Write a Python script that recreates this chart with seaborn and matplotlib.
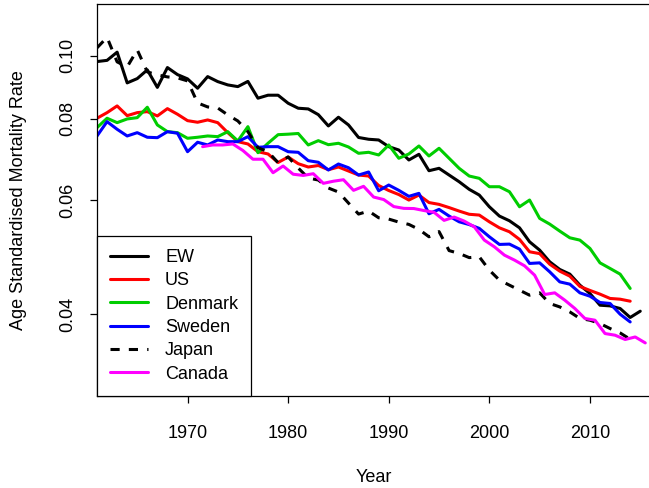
import numpy as np
import pandas as pd
import matplotlib
matplotlib.use("Agg")
import matplotlib.pyplot as plt
import seaborn as sns
from matplotlib.ticker import FixedLocator, FixedFormatter, NullLocator

# ---------------- data ----------------
years_ew = list(range(1961, 2016))
ew = [0.09800, 0.09842, 0.10132, 0.09087, 0.09226, 0.09516, 0.08943, 0.09594, 0.09358, 0.09217,
      0.08917, 0.09292, 0.09129, 0.09022, 0.08968, 0.09135, 0.08607, 0.08699, 0.08699, 0.08455,
      0.08307, 0.08286, 0.08120, 0.07801, 0.08046, 0.07829, 0.07489, 0.07442, 0.07423, 0.07249,
      0.07164, 0.06915, 0.07056, 0.06657, 0.06714, 0.06556, 0.06402, 0.06232, 0.06107, 0.05859,
      0.05669, 0.05575, 0.05438, 0.05175, 0.05025, 0.04821, 0.04692, 0.04615, 0.04438, 0.04309,
      0.04134, 0.04124, 0.04086, 0.03958, 0.04047]

years_us = list(range(1961, 2015))
us = [0.08017, 0.08178, 0.08375, 0.08091, 0.08178, 0.08207, 0.08083, 0.08295, 0.08132, 0.07949,
      0.07904, 0.07969, 0.07893, 0.07618, 0.07379, 0.07319, 0.07121, 0.07064, 0.06854, 0.06989,
      0.06825, 0.06745, 0.06781, 0.06681, 0.06745, 0.06650, 0.06556, 0.06533, 0.06317, 0.06206,
      0.06118, 0.06000, 0.06107, 0.05947, 0.05909, 0.05842, 0.05770, 0.05705, 0.05689, 0.05555,
      0.05438, 0.05362, 0.05219, 0.04995, 0.04963, 0.04781, 0.04664, 0.04582, 0.04418, 0.04356,
      0.04299, 0.04234, 0.04223, 0.04193]

years_denmark = list(range(1961, 2015))
denmark = [0.07754, 0.08017, 0.07893, 0.07997, 0.08034, 0.08336, 0.07829, 0.07645, 0.07618, 0.07468,
           0.07495, 0.07529, 0.07511, 0.07645, 0.07397, 0.07782, 0.07096, 0.07337, 0.07564, 0.07577,
           0.07596, 0.07293, 0.07405, 0.07300, 0.07337, 0.07241, 0.07081, 0.07106, 0.07039, 0.07293,
           0.06957, 0.07064, 0.07267, 0.07014, 0.07208, 0.06957, 0.06714, 0.06533, 0.06480, 0.06290,
           0.06290, 0.06179, 0.05859, 0.06000, 0.05623, 0.05510, 0.05375, 0.05249, 0.05206, 0.05055,
           0.04803, 0.04709, 0.04615, 0.04387]

years_sweden = list(range(1961, 2015))
sweden = [0.07529, 0.07921, 0.07710, 0.07529, 0.07618, 0.07495, 0.07484, 0.07645, 0.07602, 0.07121,
          0.07363, 0.07293, 0.07423, 0.07379, 0.07379, 0.07511, 0.07233, 0.07249, 0.07249, 0.07121,
          0.07106, 0.06898, 0.06859, 0.06674, 0.06817, 0.06728, 0.06556, 0.06627, 0.06201, 0.06328,
          0.06210, 0.06079, 0.06144, 0.05715, 0.05805, 0.05669, 0.05555, 0.05501, 0.05427, 0.05268,
          0.05127, 0.05133, 0.05043, 0.04793, 0.04803, 0.04653, 0.04490, 0.04454, 0.04319, 0.04268,
          0.04174, 0.04159, 0.04004, 0.03896]

years_japan = list(range(1961, 2015))
japan = [0.10288, 0.10678, 0.09789, 0.09617, 0.10215, 0.09448, 0.09348, 0.09282, 0.09249, 0.09151,
         0.08464, 0.08345, 0.08315, 0.08112, 0.07941, 0.07645, 0.07223, 0.07121, 0.06849, 0.06989,
         0.06721, 0.06487, 0.06441, 0.06261, 0.06173, 0.05936, 0.05709, 0.05770, 0.05635, 0.05609,
         0.05549, 0.05504, 0.05408, 0.05268, 0.05366, 0.05016, 0.04966, 0.04893, 0.04907, 0.04681,
         0.04518, 0.04438, 0.04360, 0.04283, 0.04319, 0.04159, 0.04109, 0.04037, 0.03944, 0.03920,
         0.03874, 0.03806, 0.03747, 0.03664]

years_canada = [y + 0.5 for y in range(1971, 2016)]
canada = [0.07249, 0.07293, 0.07293, 0.07319, 0.07152, 0.06934, 0.06934, 0.06610, 0.06769, 0.06575,
          0.06547, 0.06587, 0.06366, 0.06414, 0.06448, 0.06210, 0.06299, 0.06064, 0.06011, 0.05863,
          0.05826, 0.05822, 0.05781, 0.05746, 0.05583, 0.05649, 0.05569, 0.05458, 0.05206, 0.05084,
          0.04936, 0.04850, 0.04753, 0.04598, 0.04294, 0.04319, 0.04208, 0.04086, 0.03944, 0.03920,
          0.03739, 0.03717, 0.03661, 0.03694, 0.03617]

series_names = ["EW", "US", "Denmark", "Sweden", "Japan", "Canada"]
y_ticks = [0.04, 0.06, 0.08, 0.10]
y_tick_labels = ["0.04", "0.06", "0.08", "0.10"]
x_ticks = [1970, 1980, 1990, 2000, 2010]
x_tick_labels = ["1970", "1980", "1990", "2000", "2010"]

# ---------------- styling ----------------
sns.set_style("ticks")
plt.rcParams["font.family"] = ["Liberation Sans", "DejaVu Sans"]
plt.rcParams["text.color"] = "black"
plt.rcParams["axes.labelcolor"] = "black"
plt.rcParams["xtick.color"] = "black"
plt.rcParams["ytick.color"] = "black"

colors = {"EW": "#000000", "US": "#FF0000", "Denmark": "#00CD00",
          "Sweden": "#0000FF", "Japan": "#000000", "Canada": "#FF00FF"}
styles = {"EW": "-", "US": "-", "Denmark": "-", "Sweden": "-",
          "Japan": (0, (3, 3)), "Canada": "-"}

data = {
    "EW": (years_ew, ew), "US": (years_us, us), "Denmark": (years_denmark, denmark),
    "Sweden": (years_sweden, sweden), "Japan": (years_japan, japan),
    "Canada": (years_canada, canada),
}

fig = plt.figure(figsize=(6.49, 4.88), dpi=100)
ax = fig.add_axes([97 / 649, (488 - 395.7) / 488, (650.3 - 97) / 649, (395.7 - 4.4) / 488])

for name in series_names:
    xs, ys = data[name]
    df = pd.DataFrame({"Year": xs, "Rate": ys})
    sns.lineplot(data=df, x="Year", y="Rate", ax=ax, color=colors[name],
                 linewidth=2.2, linestyle=styles[name], label=name,
                 estimator=None, sort=False)

ax.set_yscale("log")
ax.set_xlim(1961, 2016)
ax.set_ylim(0.03, 0.12)

ax.yaxis.set_major_locator(FixedLocator(y_ticks))
ax.yaxis.set_major_formatter(FixedFormatter(y_tick_labels))
ax.yaxis.set_minor_locator(NullLocator())
ax.xaxis.set_major_locator(FixedLocator(x_ticks))
ax.xaxis.set_major_formatter(FixedFormatter(x_tick_labels))

ax.tick_params(axis="both", direction="out", length=5.2, width=0.9,
               colors="black", labelcolor="black", labelsize=13)
ax.tick_params(axis="x", pad=16)
ax.tick_params(axis="y", pad=10)
for lab in ax.get_yticklabels():
    lab.set_rotation(90)
    lab.set_va("center")
    lab.set_ha("right")

for side in ["left", "top", "bottom", "right"]:
    ax.spines[side].set_visible(True)
    ax.spines[side].set_color("black")
    ax.spines[side].set_linewidth(0.9)

ax.set_xlabel("Year", fontsize=13, color="black")
ax.set_ylabel("Age Standardised Mortality Rate", fontsize=13, color="black")
ax.xaxis.set_label_coords(0.5, -0.188)
ax.xaxis.label.set_va("top")
ax.yaxis.set_label_coords(-0.1274, 0.5)

leg = ax.legend(loc="lower left", bbox_to_anchor=(0, 0), borderaxespad=0,
                fontsize=13, frameon=True, fancybox=False, framealpha=1,
                edgecolor="black", handlelength=2.1, handletextpad=0.95,
                borderpad=0.72, labelspacing=0.35)
leg.get_frame().set_linewidth(0.9)
for t in leg.get_texts():
    t.set_color("black")

fig.savefig("out.png", dpi=100)
